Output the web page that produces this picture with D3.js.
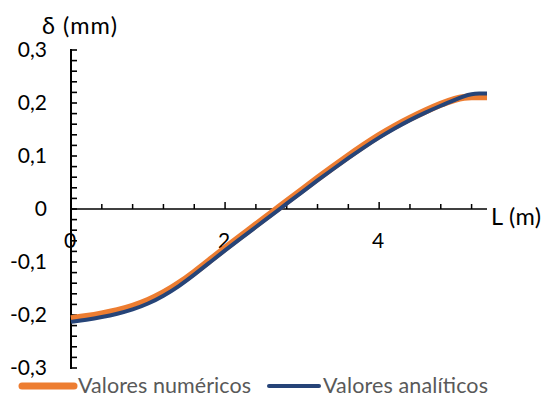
<!DOCTYPE html>
<html>
<head>
<meta charset="utf-8">
<script src="https://cdn.jsdelivr.net/npm/d3@7"></script>
<style>
  html, body { margin: 0; padding: 0; background: #fff; }
  svg { display: block; font-family: Lato, "Open Sans", sans-serif; }
</style>
</head>
<body>
<svg id="chart" width="544" height="394"></svg>
<script>
// Beam deflection along its length: numerical vs analytical values
const positions = [0, 0.2, 0.4, 0.6, 0.8, 1.0, 1.2, 1.4, 1.6, 1.8, 2.0, 2.2, 2.4, 2.6, 2.8, 3.0,
                   3.2, 3.4, 3.6, 3.8, 4.0, 4.2, 4.4, 4.6, 4.8, 5.0, 5.1, 5.2, 5.3, 5.4];
const numericValues = [-0.207, -0.203, -0.198, -0.192, -0.184, -0.173, -0.159, -0.141, -0.120, -0.097,
                       -0.074, -0.052, -0.030, -0.008, 0.014, 0.036, 0.058, 0.079, 0.100, 0.120,
                       0.139, 0.156, 0.171, 0.185, 0.198, 0.208, 0.211, 0.212, 0.212, 0.212];
const analyticValues = [-0.213, -0.209, -0.204, -0.198, -0.190, -0.179, -0.164, -0.146, -0.124, -0.101,
                        -0.078, -0.056, -0.034, -0.012, 0.010, 0.032, 0.054, 0.075, 0.096, 0.116,
                        0.135, 0.152, 0.168, 0.182, 0.195, 0.207, 0.213, 0.217, 0.218, 0.218];
const seriesNames = ["Valores numéricos", "Valores analíticos"];
const seriesColors = ["#ED7D31", "#264478"];
const xMajorTicks = [0, 2, 4];
const yMajorTicks = [-0.3, -0.2, -0.1, 0, 0.1, 0.2, 0.3];

const svg = d3.select("#chart");
const x = d3.scaleLinear().domain([0, 5.4]).range([71, 487]);
const y = d3.scaleLinear().domain([-0.3, 0.3]).range([368, 50]);
const decimal = d => d === 0 ? "0" : d3.format(".1f")(d).replace(".", ",").replace("−", "-");

// y axis: line, minor ticks every 0.02 and labels every 0.1
const yMinor = d3.range(-0.3, 0.3001, 0.02);
const gy = svg.append("g");
gy.append("line").attr("x1", x(0)).attr("x2", x(0)).attr("y1", y(0.3) - 1).attr("y2", y(-0.3) + 1)
  .attr("stroke", "#000").attr("stroke-width", 2);
gy.selectAll("line.tick").data(yMinor).join("line")
  .attr("x1", x(0)).attr("x2", x(0) + 6)
  .attr("y1", d => y(d)).attr("y2", d => y(d))
  .attr("stroke", "#000").attr("stroke-width", 1.6);
gy.selectAll("text").data(yMajorTicks).join("text")
  .attr("x", 47).attr("y", d => y(d) + 7)
  .attr("text-anchor", "end").attr("font-size", 21).attr("fill", "#000")
  .text(decimal);

// x axis at zero: minor ticks every 0.4, major every 2
const xMinor = d3.range(0.4, 5.4, 0.4);
const isMajor = d => xMajorTicks.some(m => Math.abs(m - d) < 0.01);
const gx = svg.append("g");
gx.append("line").attr("x1", x(0)).attr("x2", x(5.4)).attr("y1", y(0)).attr("y2", y(0))
  .attr("stroke", "#000").attr("stroke-width", 1.5);
gx.selectAll("line.tick").data(xMinor).join("line")
  .attr("x1", d => x(d)).attr("x2", d => x(d))
  .attr("y1", y(0)).attr("y2", d => y(0) - (isMajor(d) ? 7 : 5))
  .attr("stroke", "#000").attr("stroke-width", 1.5);
gx.selectAll("text").data(xMajorTicks).join("text")
  .attr("x", d => x(d) - 1).attr("y", 248)
  .attr("text-anchor", "middle").attr("font-size", 21).attr("fill", "#000")
  .text(d => d);

// axis titles
svg.append("text").attr("x", 42).attr("y", 34).attr("font-size", 23.5).attr("fill", "#000")
  .attr("textLength", 75).attr("lengthAdjust", "spacing").text("δ (mm)");
svg.append("text").attr("x", 491).attr("y", 225).attr("font-size", 23.5).attr("fill", "#000")
  .attr("textLength", 50).attr("lengthAdjust", "spacing").text("L (m)");

// curves
const line = d3.line().x(d => x(d[0])).y(d => y(d[1])).curve(d3.curveBasis);
svg.append("path").datum(positions.map((p, i) => [p, numericValues[i]]))
  .attr("d", line).attr("fill", "none").attr("stroke", seriesColors[0])
  .attr("stroke-width", 7).attr("stroke-linecap", "butt");
svg.append("path").datum(positions.map((p, i) => [p, analyticValues[i]]))
  .attr("d", line).attr("fill", "none").attr("stroke", seriesColors[1])
  .attr("stroke-width", 4).attr("stroke-linecap", "butt");

// legend
const legend = [{x1: 22, x2: 74, tx: 78, len: 173, w: 7}, {x1: 269, x2: 319, tx: 323, len: 165, w: 4}];
const lg = svg.append("g");
legend.forEach((l, i) => {
  lg.append("line").attr("x1", l.x1).attr("x2", l.x2).attr("y1", 386).attr("y2", 386)
    .attr("stroke", seriesColors[i]).attr("stroke-width", l.w).attr("stroke-linecap", "round");
  lg.append("text").attr("x", l.tx).attr("y", 393).attr("font-size", 21.5).attr("fill", "#595959")
    .attr("textLength", l.len).attr("lengthAdjust", "spacing").text(seriesNames[i]);
});
</script>
</body>
</html>
